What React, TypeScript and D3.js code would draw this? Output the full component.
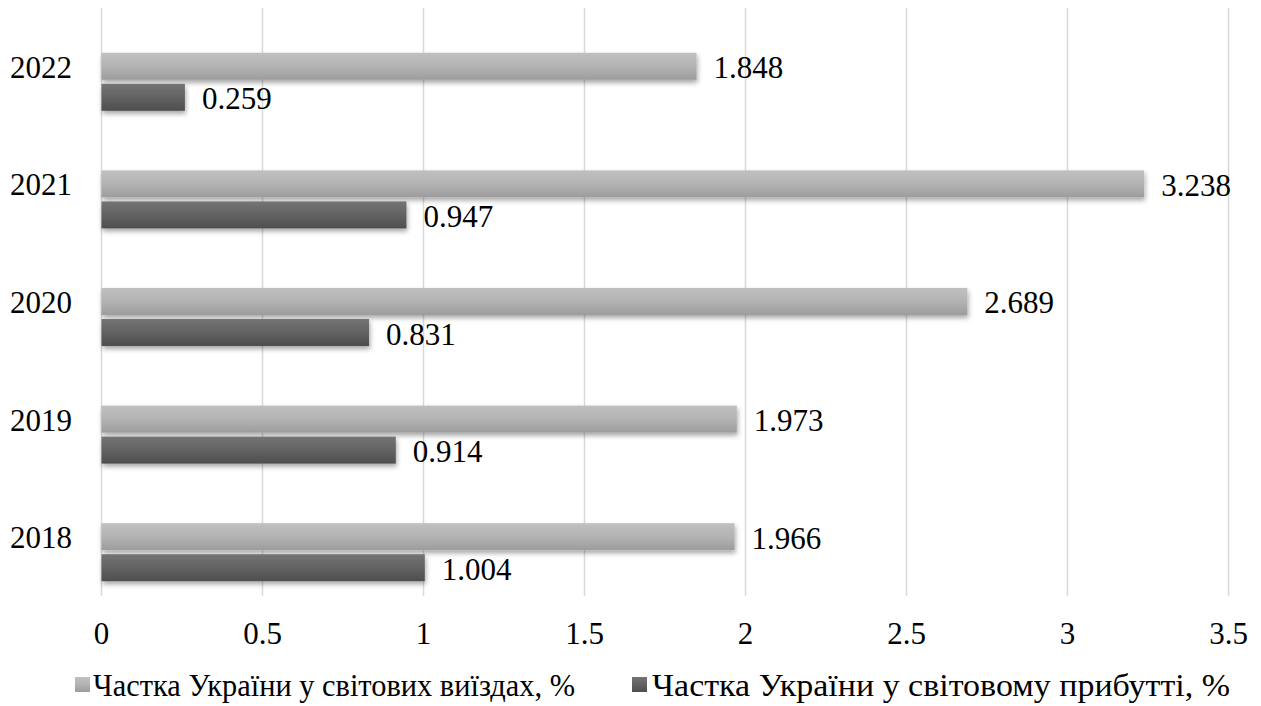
import React from "react";
import * as d3 from "d3";

const categories = ["2022", "2021", "2020", "2019", "2018"];
const exitsShare = [1.848, 3.238, 2.689, 1.973, 1.966];
const arrivalsShare = [0.259, 0.947, 0.831, 0.914, 1.004];
const xTicks = [0, 0.5, 1, 1.5, 2, 2.5, 3, 3.5];
const seriesNames = [
  "Частка України у світових виїздах, %",
  "Частка України у світовому прибутті, %",
];

const W = 1261;
const H = 706;
const FONT = "'Liberation Serif', 'Times New Roman', serif";
const txt: React.CSSProperties = { fontFamily: FONT, fontSize: "31px" };
const legTxt: React.CSSProperties = { fontFamily: FONT, fontSize: "32px" };

export default function App() {
  const x = d3.scaleLinear().domain([0, 3.5]).range([101.5, 1228.5]);
  const y = d3.scaleBand<string>().domain(categories).range([8, 596]).padding(0);
  const sub = d3
    .scaleBand<string>()
    .domain(["exits", "arrivals"])
    .range([0, 58])
    .paddingInner(0.13);
  const groupOffset = 15 - 29;
  const fmt = (v: number) => d3.format(".3f")(v);

  const series = [
    { key: "exits", values: exitsShare, grad: "url(#gLight)" },
    { key: "arrivals", values: arrivalsShare, grad: "url(#gDark)" },
  ];

  return (
    <svg
      width={W}
      height={H}
      style={{ position: "absolute", left: 0, top: 0, background: "#fff", fontFamily: FONT }}
    >
      <defs>
        <linearGradient id="gLight" x1="0" y1="0" x2="0" y2="1">
          <stop offset="0" stopColor="#c0c0c0" />
          <stop offset="0.5" stopColor="#b3b3b3" />
          <stop offset="1" stopColor="#9c9c9c" />
        </linearGradient>
        <linearGradient id="gDark" x1="0" y1="0" x2="0" y2="1">
          <stop offset="0" stopColor="#747474" />
          <stop offset="0.5" stopColor="#626262" />
          <stop offset="1" stopColor="#4e4e4e" />
        </linearGradient>
        <filter id="shadow" x="-5%" y="-30%" width="110%" height="180%">
          <feDropShadow dx="1" dy="3" stdDeviation="2.5" floodColor="#000" floodOpacity="0.35" />
        </filter>
      </defs>
      <rect x={0} y={0} width={W} height={H} fill="#fff" />
      {xTicks.map((t) => (
        <line
          key={"g" + t}
          x1={x(t)}
          x2={x(t)}
          y1={8}
          y2={596}
          stroke="#d9d9d9"
          strokeWidth={1.5}
        />
      ))}
      {categories.map((c) => (
        <text
          key={"c" + c}
          x={72}
          y={(y(c) as number) + y.bandwidth() / 2 + 11}
          textAnchor="end"
          style={txt}
          fill="#000"
        >
          {c}
        </text>
      ))}
      {series.map((s) =>
        categories.map((c, i) => {
          const y0 = (y(c) as number) + y.bandwidth() / 2 + groupOffset + (sub(s.key) as number);
          const v = s.values[i];
          return (
            <g key={s.key + c}>
              <rect
                x={x(0)}
                y={y0}
                width={x(v) - x(0)}
                height={sub.bandwidth()}
                fill={s.grad}
                filter="url(#shadow)"
              />
              <text
                x={x(v) + 17}
                y={y0 + sub.bandwidth() / 2 + 12}
                style={txt}
                fill="#000"
              >
                {fmt(v)}
              </text>
            </g>
          );
        })
      )}
      {xTicks.map((t) => (
        <text
          key={"t" + t}
          x={x(t)}
          y={644}
          textAnchor="middle"
          style={txt}
          fill="#000"
        >
          {String(t)}
        </text>
      ))}
      <g>
        <rect x={75} y={677} width={15} height={15} fill="url(#gLight)" />
        <text
          x={93}
          y={696}
          style={legTxt}
          fill="#000"
          textLength={482}
          lengthAdjust="spacingAndGlyphs"
        >
          {seriesNames[0]}
        </text>
        <rect x={632} y={677} width={15} height={15} fill="url(#gDark)" />
        <text
          x={652}
          y={696}
          style={legTxt}
          fill="#000"
          textLength={578}
          lengthAdjust="spacingAndGlyphs"
        >
          {seriesNames[1]}
        </text>
      </g>
    </svg>
  );
}
